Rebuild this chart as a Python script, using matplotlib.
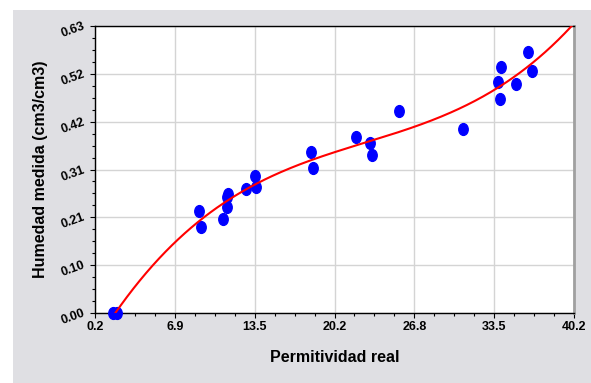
import matplotlib
matplotlib.use("Agg")
import matplotlib.pyplot as plt
from matplotlib.patches import Rectangle
from matplotlib.path import Path
from matplotlib.transforms import Affine2D
import numpy as np

plt.rcParams['font.family'] = ['Liberation Sans', 'DejaVu Sans']
plt.rcParams['font.weight'] = 'bold'

# measured points (permitividad real, humedad medida)
perm = [1.70, 2.04, 8.88, 9.03, 10.86, 11.20, 11.33, 11.25, 12.81, 13.56, 13.62,
        18.21, 18.38, 21.97, 23.14, 23.33, 25.56, 30.96, 34.08, 33.83, 33.99,
        35.33, 36.36, 36.69]
hum = [0.0, 0.0, 0.2245, 0.1894, 0.2057, 0.254, 0.2605, 0.2333, 0.2715, 0.3007,
       0.2772, 0.3527, 0.3183, 0.3856, 0.3738, 0.3475, 0.444, 0.403, 0.5406,
       0.5077, 0.4704, 0.502, 0.572, 0.531]

xticks = [0.2, 6.2 + 2 / 3, 13.2 + 1 / 3, 20.2, 26.2 + 2 / 3, 33.2 + 1 / 3, 40.2]
xlabels = ['0.2', '6.9', '13.5', '20.2', '26.8', '33.5', '40.2']
yticks = [0.0, 0.105, 0.21, 0.315, 0.42, 0.525, 0.63]
ylabels = ['0.00', '0.10', '0.21', '0.31', '0.42', '0.52', '0.63']

fig = plt.figure(figsize=(5.91, 3.83), dpi=100)
fig.patches.append(Rectangle((13 / 591, 0), 1, (383 - 10) / 383, transform=fig.transFigure,
                             facecolor='#dfdfe3', edgecolor='none', zorder=-1))

ax = fig.add_axes([95 / 591, 70 / 383, 479 / 591, 287 / 383])
ax.set_facecolor('white')

ellipse = Path.unit_circle().transformed(Affine2D().scale(0.8, 1.0))
ax.plot(perm, hum, linestyle='none', marker=ellipse, markersize=8.5,
        color='#0000ff', clip_on=False, zorder=3)

# cubic regression of the measured points
coef = np.polyfit(perm, hum, 3)
xx = np.linspace(0.2, 40.2, 300)
ax.plot(xx, np.polyval(coef, xx), color='#ff0000', lw=1.5, zorder=4)

ax.set_xlim(0.2, 40.2)
ax.set_ylim(0, 0.63)
ax.set_xticks(xticks)
ax.set_xticklabels(xlabels)
ax.set_yticks(yticks)
ax.set_yticklabels(ylabels, rotation=20, ha='right', va='center', rotation_mode='anchor')
ax.set_xticks(np.arange(0.2, 40.21, 40 / 24), minor=True)
ax.set_yticks(np.arange(0, 0.6301, 0.63 / 24), minor=True)
ax.tick_params(which='major', direction='out', length=3.6, width=0.8, labelsize=9)
ax.tick_params(which='minor', direction='out', length=2.2, width=0.8)
ax.tick_params(axis='x', pad=2.5)
ax.tick_params(axis='y', pad=4)
ax.grid(True, which='major', color='#d4d4d4', lw=1)
ax.set_axisbelow(True)

for s in ['left', 'bottom', 'top']:
    ax.spines[s].set_color('black')
    ax.spines[s].set_linewidth(1)
ax.spines['right'].set_color('#a0a0a0')
ax.spines['right'].set_linewidth(2)

ax.set_xlabel('Permitividad real', fontsize=11.5, fontweight='bold', labelpad=12)
ax.set_ylabel('Humedad medida (cm3/cm3)', fontsize=11.5, fontweight='bold', labelpad=8)

fig.savefig('out.png', dpi=100)
